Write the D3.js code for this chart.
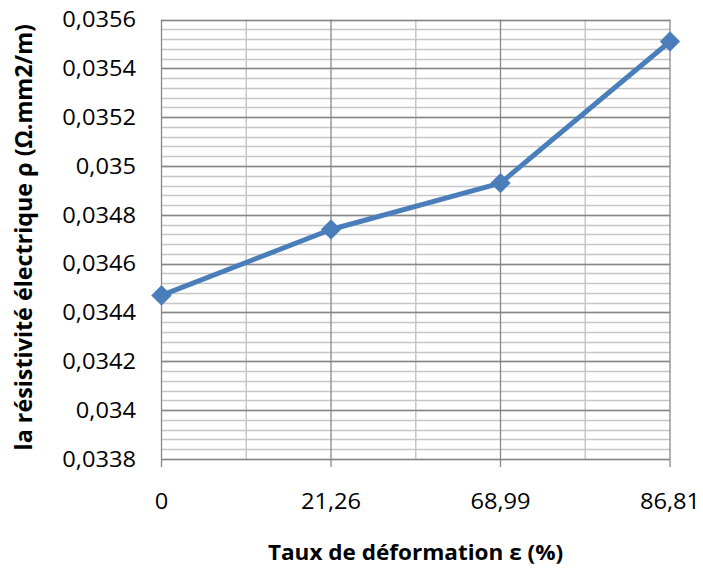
<!DOCTYPE html>
<html><head><meta charset="utf-8">
<script src="https://cdn.jsdelivr.net/npm/d3@7"></script>
<style>html,body{margin:0;padding:0;background:#fff}svg{display:block}</style>
</head><body>
<svg id="c" width="703" height="570"></svg>
<script>
const categories = ["0", "21,26", "68,99", "86,81"];
const resistivity = [0.03447, 0.03474, 0.03493, 0.03551];
const yTickValues = [0.0338, 0.034, 0.0342, 0.0344, 0.0346, 0.0348, 0.035, 0.0352, 0.0354, 0.0356];
const xTitle = "Taux de déformation ε (%)";
const yTitle = "la résistivité électrique ρ (Ω.mm2/m)";

const svg = d3.select("#c");
const L = 161.5, R = 670, T = 19.5, B = 459;
const FONT = "'Open Sans', sans-serif";
const SX = 1.1;

const x = d3.scalePoint().domain(categories).range([L, R]);
const y = d3.scaleLinear().domain([0.0338, 0.0356]).range([B, T]);
const loc = d3.formatLocale({decimal: ",", thousands: " ", grouping: [3], currency: ["", ""]});
const fmt = loc.format(".4~f");

// minor horizontal grid
const minorY = d3.range(0.0338, 0.03561, 0.00004);
svg.append("g").selectAll("line").data(minorY).join("line")
  .attr("x1", L).attr("x2", R)
  .attr("y1", d => Math.round(y(d)) + 0.5).attr("y2", d => Math.round(y(d)) + 0.5)
  .attr("stroke", "#c6c6c6").attr("stroke-width", 1.5);
// minor vertical grid (between categories)
const step = x.step();
const minorX = categories.slice(1).map(c => x(c) - step / 2);
svg.append("g").selectAll("line").data(minorX).join("line")
  .attr("x1", d => d).attr("x2", d => d).attr("y1", T).attr("y2", B)
  .attr("stroke", "#c6c6c6").attr("stroke-width", 1.5);
// major horizontal grid
svg.append("g").selectAll("line").data(yTickValues).join("line")
  .attr("x1", L).attr("x2", R)
  .attr("y1", d => Math.round(y(d)) + 0.5).attr("y2", d => Math.round(y(d)) + 0.5)
  .attr("stroke", "#878787").attr("stroke-width", 1.3);
// major vertical grid + ticks
svg.append("g").selectAll("line").data(categories).join("line")
  .attr("x1", d => x(d)).attr("x2", d => x(d)).attr("y1", T).attr("y2", B + 8)
  .attr("stroke", "#878787").attr("stroke-width", 1.3);

// y tick labels
svg.append("g").selectAll("text").data(yTickValues).join("text")
  .attr("transform", d => `translate(136,${y(d)}) scale(${SX},1)`)
  .attr("text-anchor", "end").attr("dy", "0.36em")
  .attr("font-family", FONT).attr("font-size", 21.5).attr("fill", "#000")
  .text(d => fmt(d));
// x tick labels
svg.append("g").selectAll("text").data(categories).join("text")
  .attr("transform", d => `translate(${x(d)},508.5) scale(${SX},1)`)
  .attr("text-anchor", "middle")
  .attr("font-family", FONT).attr("font-size", 21.5).attr("fill", "#000")
  .text(d => d);

// line
const line = d3.line().x((d, i) => x(categories[i])).y(d => y(d));
svg.append("path").datum(resistivity).attr("d", line)
  .attr("fill", "none").attr("stroke", "#4A7EBB").attr("stroke-width", 5)
  .attr("stroke-linejoin", "round");
// diamond markers
const sym = d3.symbol().type(d3.symbolDiamond2).size(240);
svg.append("g").selectAll("path").data(resistivity).join("path")
  .attr("transform", (d, i) => `translate(${x(categories[i])},${y(d)})`)
  .attr("d", sym).attr("fill", "#4A7EBB").attr("stroke", "#4A7EBB").attr("stroke-width", 1);

// titles
svg.append("text")
  .attr("transform", `translate(415.5,560) scale(${SX},1)`)
  .attr("text-anchor", "middle")
  .attr("font-family", FONT).attr("font-weight", "bold").attr("font-size", 20.5).attr("fill", "#000")
  .text(xTitle);
svg.append("text")
  .attr("transform", `translate(32,${(T + B) / 2 - 2}) rotate(-90) scale(1.11,1.1)`)
  .attr("text-anchor", "middle")
  .attr("font-family", FONT).attr("font-weight", "bold").attr("font-size", 21).attr("fill", "#000")
  .text(yTitle);
</script>
</body></html>
